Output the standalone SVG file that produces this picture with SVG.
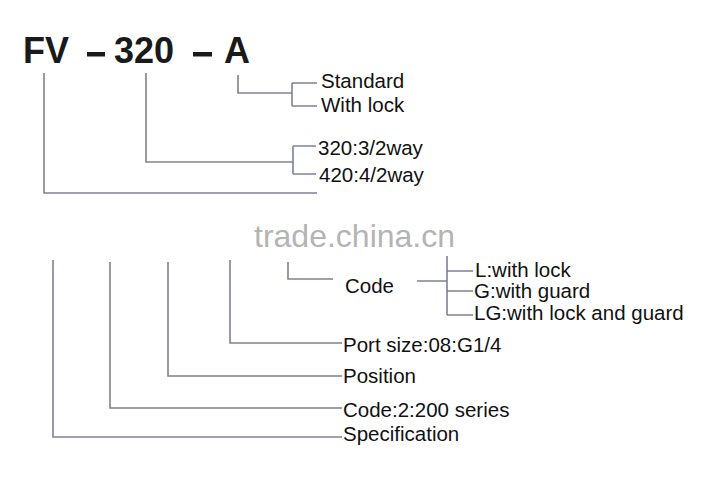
<svg xmlns="http://www.w3.org/2000/svg" width="709" height="499" viewBox="0 0 709 499">
<style>
.ln{fill:none;stroke:#7f8099;stroke-width:1.6}
.t{font-family:"Liberation Sans",Arial,sans-serif;font-size:20.5px;fill:#111}
.h{font-family:"Liberation Sans",Arial,sans-serif;font-size:36px;font-weight:bold;fill:#1a1a1a}
.wm{font-family:"Liberation Sans",Arial,sans-serif;font-size:32px;fill:#b4b4b4}
</style>
<rect width="709" height="499" fill="#fff"/>
<g id="title">
<text class="h" x="23" y="63">FV</text>
<rect x="87" y="52" width="18" height="4.5" fill="#1a1a1a"/>
<text class="h" x="114" y="63">320</text>
<rect x="193" y="52" width="19" height="4.5" fill="#1a1a1a"/>
<text class="h" x="224" y="63">A</text>
</g>
<text class="wm" x="254" y="247">trade.china.cn</text>
<g id="connectors">
<path class="ln" d="M238 75V93H292M292 83V106M292 83H317M292 106H317"/>
<path class="ln" d="M146 73V162H293M293 146V174M293 146H316M293 174H316"/>
<path class="ln" d="M44 73V193H317"/>
<path class="ln" d="M288 262V279H333"/>
<path class="ln" d="M417 281H447M447 256V315M447 271H473M447 291H473M447 315H473"/>
<path class="ln" d="M230 260V343H342"/>
<path class="ln" d="M168 262V376H342"/>
<path class="ln" d="M110 262V408H342"/>
<path class="ln" d="M53 260V437H342"/>
</g>
<g id="opt-a">
<text class="t" x="321" y="88">Standard</text>
<text class="t" x="321" y="112">With lock</text>
</g>
<g id="opt-320">
<text class="t" x="318" y="155">320:3/2way</text>
<text class="t" x="319" y="182">420:4/2way</text>
</g>
<g id="code">
<text class="t" x="345" y="293">Code</text>
<text class="t" x="475" y="277">L:with lock</text>
<text class="t" x="474" y="298">G:with guard</text>
<text class="t" x="474" y="320">LG:with lock and guard</text>
</g>
<g id="port"><text class="t" x="343" y="352">Port size:08:G1/4</text></g>
<g id="position"><text class="t" x="343" y="383">Position</text></g>
<g id="series"><text class="t" x="343" y="417">Code:2:200 series</text></g>
<g id="spec"><text class="t" x="343" y="441">Specification</text></g>
</svg>
